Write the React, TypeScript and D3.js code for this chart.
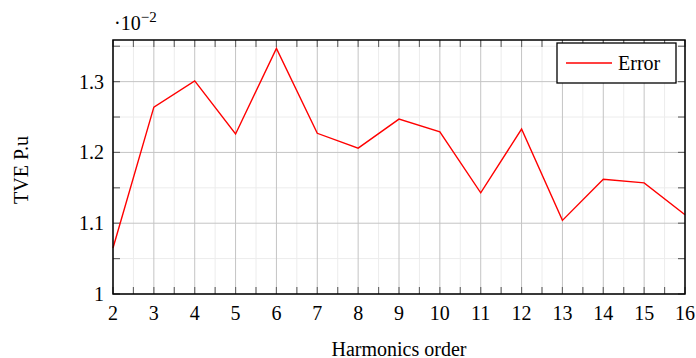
import React, { useEffect, useRef } from "react";
import * as d3 from "d3";

// harmonic order on x, TVE (x 1e-2 p.u.) on y
const harmonics = [2, 3, 4, 5, 6, 7, 8, 9, 10, 11, 12, 13, 14, 15, 16];
const tveError = [
  1.065, 1.264, 1.301, 1.226, 1.347, 1.227, 1.206, 1.247, 1.229, 1.143, 1.233,
  1.104, 1.162, 1.157, 1.112,
];
const yTicks = [1, 1.1, 1.2, 1.3];
const yMinor = [1.05, 1.15, 1.25, 1.35];
const seriesName = "Error";

const App = () => {
  const ref = useRef<SVGSVGElement>(null);

  const W = 696,
    H = 358;
  const margin = { top: 40, right: 11, bottom: 64, left: 113 };
  const width = W - margin.left - margin.right,
    height = H - margin.top - margin.bottom;

  useEffect(() => {
    const root = d3.select(ref.current);
    root.selectAll("*").remove();
    const font = "'Liberation Serif', 'Times New Roman', serif";
    const fs = "20px";

    const svg = root
      .append("g")
      .attr("transform", "translate(" + margin.left + "," + margin.top + ")");

    const x = d3.scaleLinear().domain([2, 16]).range([0, width]);
    const y = d3.scaleLinear().domain([1, 1.3588]).range([height, 0]);

    const xMinor = d3.range(2.5, 16, 1);

    // minor grid
    svg
      .selectAll(".gxm")
      .data(xMinor)
      .enter()
      .append("line")
      .attr("x1", (d) => x(d))
      .attr("x2", (d) => x(d))
      .attr("y1", 0)
      .attr("y2", height)
      .attr("stroke", "#ececec")
      .attr("stroke-width", 1);
    svg
      .selectAll(".gym")
      .data(yMinor)
      .enter()
      .append("line")
      .attr("x1", 0)
      .attr("x2", width)
      .attr("y1", (d) => y(d))
      .attr("y2", (d) => y(d))
      .attr("stroke", "#ececec")
      .attr("stroke-width", 1);

    // major grid
    svg
      .selectAll(".gx")
      .data(harmonics)
      .enter()
      .append("line")
      .attr("x1", (d) => x(d))
      .attr("x2", (d) => x(d))
      .attr("y1", 0)
      .attr("y2", height)
      .attr("stroke", "#c4c4c4")
      .attr("stroke-width", 1);
    svg
      .selectAll(".gy")
      .data(yTicks)
      .enter()
      .append("line")
      .attr("x1", 0)
      .attr("x2", width)
      .attr("y1", (d) => y(d))
      .attr("y2", (d) => y(d))
      .attr("stroke", "#c4c4c4")
      .attr("stroke-width", 1);

    // inward ticks on all four sides
    const tl = 7;
    const tickColor = "#6a6a6a";
    const allX = harmonics.concat(xMinor);
    const allY = yTicks.concat(yMinor);
    allX.forEach((v) => {
      [
        [height, height - tl],
        [0, tl],
      ].forEach(([a, b]) => {
        svg
          .append("line")
          .attr("x1", x(v))
          .attr("x2", x(v))
          .attr("y1", a)
          .attr("y2", b)
          .attr("stroke", tickColor)
          .attr("stroke-width", 1.2);
      });
    });
    allY.forEach((v) => {
      [
        [0, tl],
        [width, width - tl],
      ].forEach(([a, b]) => {
        svg
          .append("line")
          .attr("x1", a)
          .attr("x2", b)
          .attr("y1", y(v))
          .attr("y2", y(v))
          .attr("stroke", tickColor)
          .attr("stroke-width", 1.2);
      });
    });

    // the line
    svg
      .append("path")
      .datum(harmonics.map((h, i) => ({ h, v: tveError[i] })))
      .attr("fill", "none")
      .attr("stroke", "#ff0000")
      .attr("stroke-width", 1.4)
      .attr(
        "d",
        d3
          .line<{ h: number; v: number }>()
          .x((d) => x(d.h))
          .y((d) => y(d.v))
      );

    // frame
    svg
      .append("rect")
      .attr("x", 0)
      .attr("y", 0)
      .attr("width", width)
      .attr("height", height)
      .attr("fill", "none")
      .attr("stroke", "#000")
      .attr("stroke-width", 1.5);

    // tick labels
    svg
      .selectAll(".xl")
      .data(harmonics)
      .enter()
      .append("text")
      .attr("x", (d) => x(d))
      .attr("y", height + 26)
      .attr("text-anchor", "middle")
      .style("font-family", font)
      .style("font-size", fs)
      .text((d) => d);
    svg
      .selectAll(".yl")
      .data(yTicks)
      .enter()
      .append("text")
      .attr("x", -9)
      .attr("y", (d) => y(d) + 7)
      .attr("text-anchor", "end")
      .style("font-family", font)
      .style("font-size", fs)
      .text((d) => d3.format("~g")(d));

    // exponent label
    const ex = svg
      .append("text")
      .attr("x", 1)
      .attr("y", -10)
      .style("font-family", font)
      .style("font-size", fs);
    ex.append("tspan").text("·10");
    ex.append("tspan").attr("dy", -8).style("font-size", "15px").text("−2");

    // axis titles
    svg
      .append("text")
      .attr("x", width / 2)
      .attr("y", height + 62)
      .attr("text-anchor", "middle")
      .style("font-family", font)
      .style("font-size", fs)
      .text("Harmonics order");
    svg
      .append("text")
      .attr("transform", "translate(" + -85 + "," + (height / 2 + 3) + ") rotate(-90)")
      .attr("text-anchor", "middle")
      .style("font-family", font)
      .style("font-size", fs)
      .text("TVE P.u");

    // legend
    const lg = svg.append("g").attr("transform", "translate(" + (width - 128) + "," + 3 + ")");
    lg.append("rect")
      .attr("width", 119)
      .attr("height", 40)
      .attr("fill", "#fff")
      .attr("stroke", "#000")
      .attr("stroke-width", 1.3);
    lg.append("line")
      .attr("x1", 9)
      .attr("x2", 55)
      .attr("y1", 20)
      .attr("y2", 20)
      .attr("stroke", "#ff0000")
      .attr("stroke-width", 1.4);
    lg.append("text")
      .attr("x", 61)
      .attr("y", 27)
      .style("font-family", font)
      .style("font-size", fs)
      .text(seriesName);
  });

  return (
    <svg
      ref={ref}
      width={W}
      height={H}
      style={{ display: "block", position: "absolute", left: 0, top: 0 }}
    />
  );
};

export default App;
